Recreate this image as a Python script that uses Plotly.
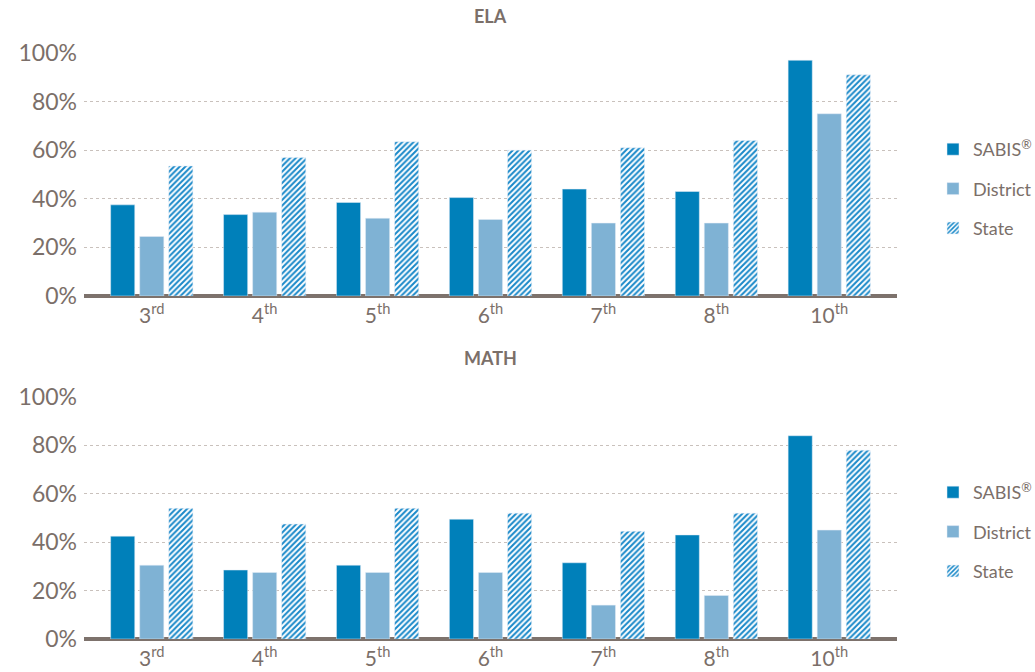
import plotly.graph_objects as go

# Grade levels and proficiency rates (%)
grades = ["3<sup>rd</sup>", "4<sup>th</sup>", "5<sup>th</sup>", "6<sup>th</sup>",
          "7<sup>th</sup>", "8<sup>th</sup>", "10<sup>th</sup>"]

ela_sabis = [37.5, 33.5, 38.5, 40.5, 44, 43, 97]
ela_district = [24.5, 34.5, 32, 31.5, 30, 30, 75]
ela_state = [53.5, 57, 63.5, 60, 61, 64, 91]

math_sabis = [42.5, 28.5, 30.5, 49.5, 31.5, 43, 84]
math_district = [30.5, 27.5, 27.5, 27.5, 14, 18, 45]
math_state = [54, 47.5, 54, 52, 44.5, 52, 78]

y_ticks = [0, 20, 40, 60, 80, 100]
y_ticktext = ["0%", "20%", "40%", "60%", "80%", "100%"]

W, H = 1035, 672
TEXT = "#7b6f69"
SABIS_C = "#0080BA"
DISTRICT_C = "#7FB2D4"
STATE_C = "#1A89C9"
FONT = "Lato"

fig = go.Figure()


def add_panel(sabis, district, state, xa, ya, legend):
    x = list(range(len(grades)))
    fig.add_bar(x=x, y=sabis, name="SABIS<sup>®</sup>", marker_color=SABIS_C,
                xaxis=xa, yaxis=ya, legend=legend, legendgroup=legend + "a")
    fig.add_bar(x=x, y=district, name="District", marker_color=DISTRICT_C,
                xaxis=xa, yaxis=ya, legend=legend, legendgroup=legend + "b")
    fig.add_bar(x=x, y=state, name="State",
                marker=dict(color="white",
                            pattern=dict(shape="/", fgcolor=STATE_C, bgcolor="white",
                                         size=4, solidity=0.5, fillmode="replace")),
                xaxis=xa, yaxis=ya, legend=legend, legendgroup=legend + "c")


add_panel(ela_sabis, ela_district, ela_state, "x", "y", "legend")
add_panel(math_sabis, math_district, math_state, "x2", "y2", "legend2")

x_left, x_right = 84 / W, 897 / W

xaxis_common = dict(
    domain=[x_left, x_right], range=[-0.6, 6.6],
    tickmode="array", tickvals=list(range(len(grades))), ticktext=grades,
    showgrid=False, zeroline=False, showline=False, ticks="",
    ticklabelstandoff=5,
    tickfont=dict(family=FONT, size=21, color=TEXT),
    automargin=False,
)
yaxis_common = dict(
    range=[0, 100], tickmode="array", tickvals=y_ticks, ticktext=y_ticktext,
    showgrid=True, gridcolor="#c9c1bc", gridwidth=1, griddash="dot",
    zeroline=True, zerolinecolor="#7d726c", zerolinewidth=4,
    showline=False, ticks="", ticklabelstandoff=6,
    tickfont=dict(family=FONT, size=23, color=TEXT),
    automargin=False,
)

legend_common = dict(
    x=933 / W, xanchor="left", yanchor="middle",
    font=dict(family=FONT, size=18, color=TEXT),
    tracegroupgap=13, itemclick=False, bgcolor="rgba(0,0,0,0)",
)

fig.update_layout(
    width=W, height=H,
    margin=dict(l=0, r=0, t=0, b=0, autoexpand=False),
    paper_bgcolor="white", plot_bgcolor="white",
    barmode="group", bargap=0.228, bargroupgap=0.17,
    xaxis=dict(anchor="y", **xaxis_common),
    yaxis=dict(anchor="x", domain=[1 - 296 / H, 1 - 53 / H], **yaxis_common),
    xaxis2=dict(anchor="y2", **xaxis_common),
    yaxis2=dict(anchor="x2", domain=[1 - 639 / H, 1 - 397 / H], **yaxis_common),
    legend=dict(y=1 - 189 / H, **legend_common),
    legend2=dict(y=1 - 532 / H, **legend_common),
    annotations=[
        dict(text="<b>ELA</b>", x=490 / W, y=1 - 16 / H, xref="paper", yref="paper",
             showarrow=False, xanchor="center", yanchor="middle",
             font=dict(family=FONT, size=18, color=TEXT)),
        dict(text="<b>MATH</b>", x=490 / W, y=1 - 358 / H, xref="paper", yref="paper",
             showarrow=False, xanchor="center", yanchor="middle",
             font=dict(family=FONT, size=18, color=TEXT)),
    ],
)

fig.write_html("out.html")
